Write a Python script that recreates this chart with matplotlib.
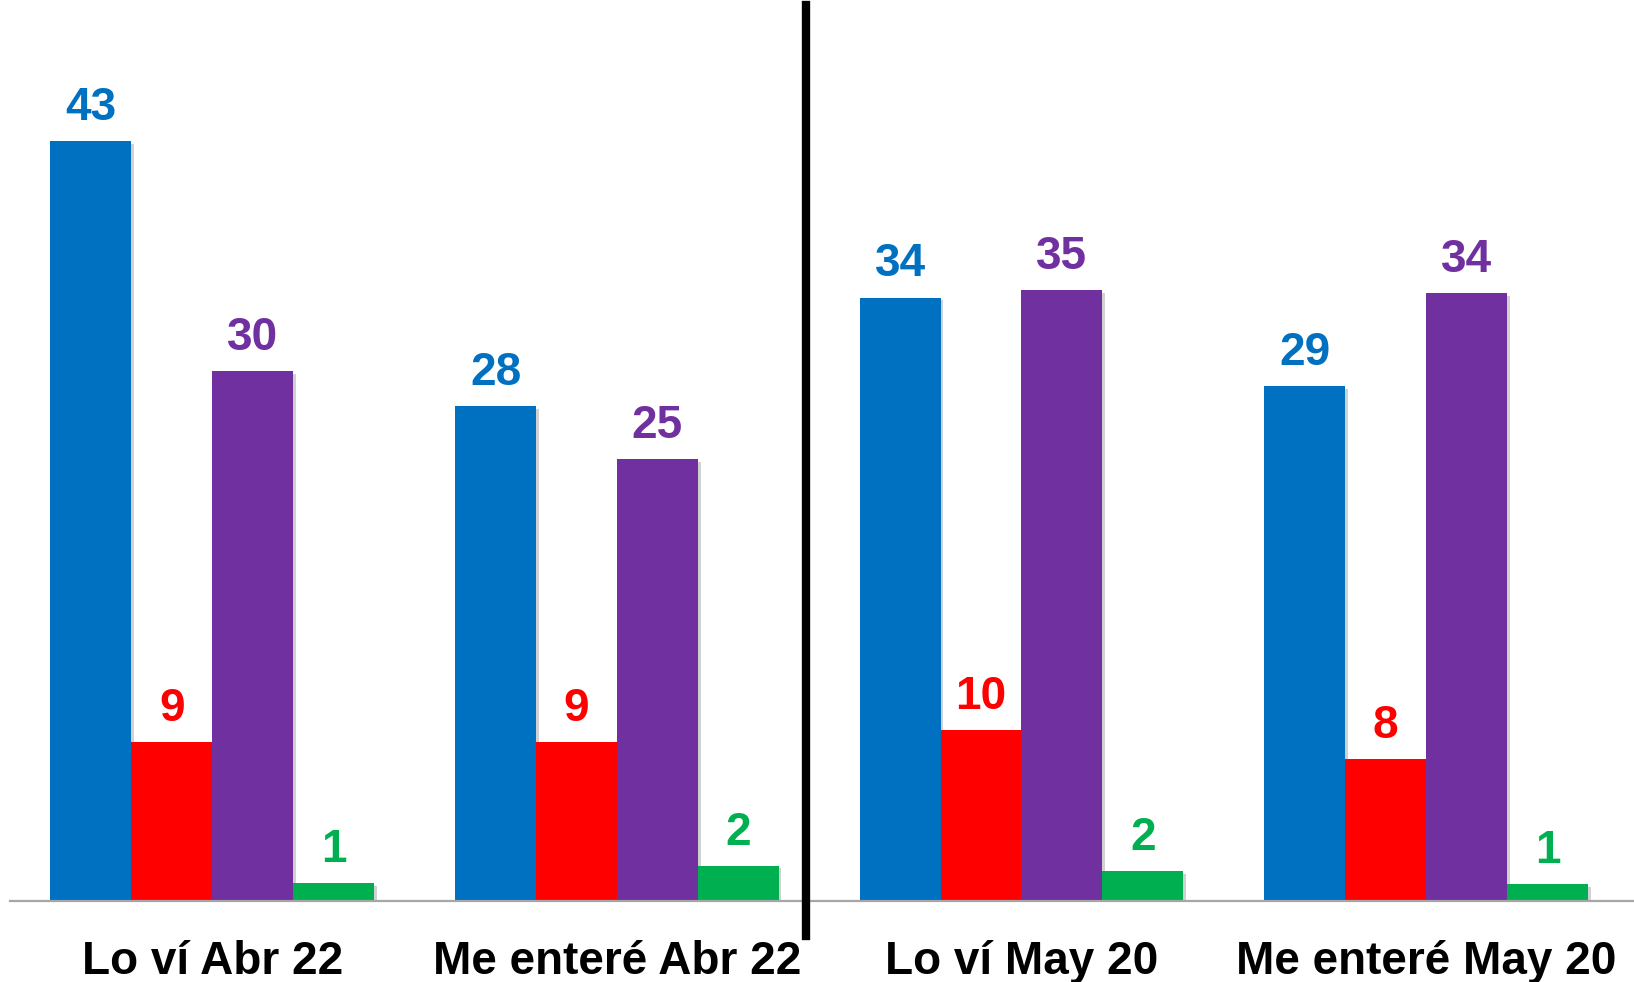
import matplotlib
matplotlib.use("Agg")
import matplotlib.pyplot as plt
import matplotlib.patheffects as pe
import numpy as np

plt.rcParams['font.family'] = ['Liberation Sans', 'DejaVu Sans']

categories = ['Lo ví Abr 22', 'Me enteré Abr 22', 'Lo ví May 20', 'Me enteré May 20']
# bar heights (labels show them rounded)
blue_vals = [43, 28, 34.16, 29.16]
red_vals = [9, 9, 9.66, 8.04]
purple_vals = [30, 25, 34.58, 34.39]
green_vals = [1, 2, 1.71, 0.94]

series = [blue_vals, red_vals, purple_vals, green_vals]
colors = ['#0070C0', '#FF0000', '#7030A0', '#00B050']

fig = plt.figure(figsize=(16.34, 9.82), dpi=100)
ax = fig.add_axes([10 / 1634, 81 / 982, 1 - 10 / 1634, 901 / 982])

x = np.arange(len(categories))
w = 0.2
shadow = [pe.SimplePatchShadow(offset=(2, -2), shadow_rgbFace='#000000', alpha=0.18), pe.Normal()]

for i, (vals, c) in enumerate(zip(series, colors)):
    bars = ax.bar(x + (i - 1.5) * w, vals, w, color=c, zorder=2)
    for b in bars:
        b.set_path_effects(shadow)
    ax.bar_label(bars, fmt='%.0f', padding=8, color=c, fontsize=33, fontweight='bold')

ax.set_xlim(-0.5, 3.514)
ax.set_ylim(0, 51.0)

ax.set_xticks(x)
ax.set_xticklabels(categories, fontsize=33, fontweight='bold')
ax.tick_params(axis='x', length=0, pad=28)
ax.set_yticks([])

for s in ['top', 'right', 'left']:
    ax.spines[s].set_visible(False)
ax.spines['bottom'].set_color('#a6a6a6')
ax.spines['bottom'].set_linewidth(1.6)

# divider between the two survey dates
ax.axvline(1.4665, ymin=-0.039, ymax=0.994, color='black', lw=6, clip_on=False, zorder=3)

fig.savefig('out.png', dpi=100, facecolor='white')
